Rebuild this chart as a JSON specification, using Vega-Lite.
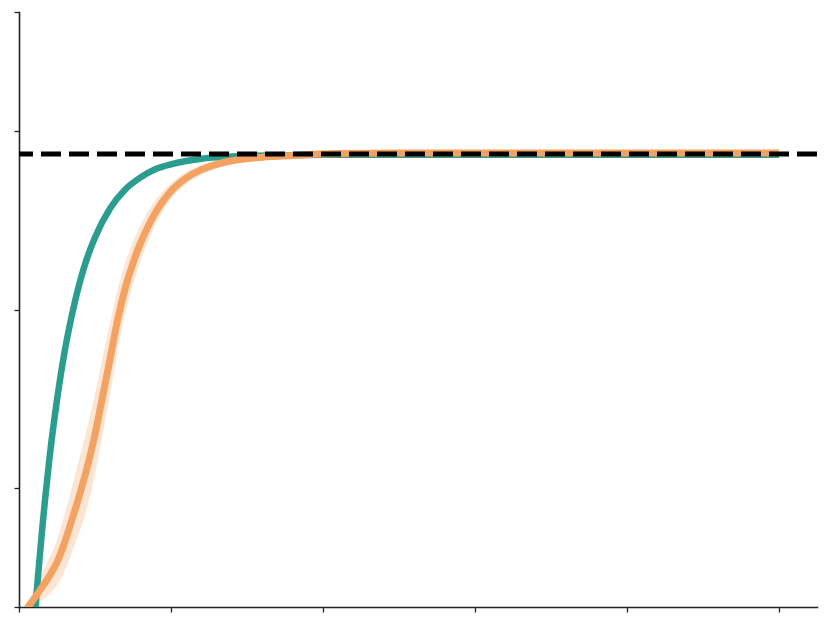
{
  "$schema": "https://vega.github.io/schema/vega-lite/v6.json",
  "width": 798,
  "height": 595,
  "autosize": {"type": "none"},
  "padding": {"left": 19, "top": 12, "right": 14, "bottom": 20},
  "background": "white",
  "config": {"view": {"stroke": null}},
  "datasets": {
    "teal": [
      {"x": 0.105, "y": -0.015},
      {"x": 0.109, "y": 0.0},
      {"x": 0.13, "y": 0.066},
      {"x": 0.15, "y": 0.124},
      {"x": 0.17, "y": 0.177},
      {"x": 0.2, "y": 0.249},
      {"x": 0.25, "y": 0.348},
      {"x": 0.3, "y": 0.429},
      {"x": 0.35, "y": 0.493},
      {"x": 0.4, "y": 0.546},
      {"x": 0.45, "y": 0.588},
      {"x": 0.5, "y": 0.621},
      {"x": 0.6, "y": 0.67},
      {"x": 0.7, "y": 0.702},
      {"x": 0.8, "y": 0.722},
      {"x": 0.9, "y": 0.736},
      {"x": 1.0, "y": 0.744},
      {"x": 1.2, "y": 0.7534},
      {"x": 1.4, "y": 0.757},
      {"x": 1.7, "y": 0.759},
      {"x": 2.0, "y": 0.76},
      {"x": 3.0, "y": 0.76},
      {"x": 4.0, "y": 0.76},
      {"x": 5.0, "y": 0.76}
    ],
    "orange": [
      {"x": 0.045, "y": -0.005, "lo": -0.015, "hi": 0.005},
      {"x": 0.059, "y": 0.0, "lo": -0.01, "hi": 0.01},
      {"x": 0.1, "y": 0.014, "lo": -0.001, "hi": 0.029},
      {"x": 0.15, "y": 0.033, "lo": 0.011, "hi": 0.055},
      {"x": 0.2, "y": 0.052, "lo": 0.022, "hi": 0.082},
      {"x": 0.25, "y": 0.075, "lo": 0.037, "hi": 0.113},
      {"x": 0.3, "y": 0.108, "lo": 0.061, "hi": 0.155},
      {"x": 0.35, "y": 0.148, "lo": 0.093, "hi": 0.203},
      {"x": 0.4, "y": 0.19, "lo": 0.128, "hi": 0.252},
      {"x": 0.45, "y": 0.236, "lo": 0.169, "hi": 0.303},
      {"x": 0.5, "y": 0.29, "lo": 0.222, "hi": 0.358},
      {"x": 0.55, "y": 0.354, "lo": 0.289, "hi": 0.419},
      {"x": 0.6, "y": 0.418, "lo": 0.358, "hi": 0.478},
      {"x": 0.65, "y": 0.484, "lo": 0.434, "hi": 0.534},
      {"x": 0.7, "y": 0.537, "lo": 0.495, "hi": 0.579},
      {"x": 0.75, "y": 0.578, "lo": 0.542, "hi": 0.614},
      {"x": 0.8, "y": 0.612, "lo": 0.582, "hi": 0.642},
      {"x": 0.85, "y": 0.64, "lo": 0.615, "hi": 0.665},
      {"x": 0.9, "y": 0.664, "lo": 0.644, "hi": 0.684},
      {"x": 0.95, "y": 0.683, "lo": 0.667, "hi": 0.699},
      {"x": 1.0, "y": 0.699, "lo": 0.686, "hi": 0.712},
      {"x": 1.1, "y": 0.721, "lo": 0.711, "hi": 0.731},
      {"x": 1.2, "y": 0.735, "lo": 0.727, "hi": 0.743},
      {"x": 1.3, "y": 0.744, "lo": 0.737, "hi": 0.751},
      {"x": 1.4, "y": 0.75, "lo": 0.744, "hi": 0.756},
      {"x": 1.6, "y": 0.756, "lo": 0.751, "hi": 0.761},
      {"x": 1.8, "y": 0.759, "lo": 0.755, "hi": 0.763},
      {"x": 2.1, "y": 0.762, "lo": 0.758, "hi": 0.766},
      {"x": 2.5, "y": 0.763, "lo": 0.759, "hi": 0.767},
      {"x": 3.5, "y": 0.763, "lo": 0.759, "hi": 0.767},
      {"x": 5.0, "y": 0.763, "lo": 0.759, "hi": 0.767}
    ],
    "ref": [{"level": 0.7613}]
  },
  "layer": [
    {
      "data": {"name": "orange"},
      "mark": {"type": "area", "color": "#f4a261", "opacity": 0.28, "clip": true, "interpolate": "monotone"},
      "encoding": {
        "x": {"field": "x", "type": "quantitative", "scale": {"domain": [0, 5.25], "nice": false, "zero": false},
          "axis": {"values": [0, 1, 2, 3, 4, 5], "labels": false, "grid": false, "title": null, "domainColor": "#222", "domainWidth": 1.6, "tickColor": "#222", "tickWidth": 1.3, "tickSize": 5, "domainCap": "square"}},
        "y": {"field": "lo", "type": "quantitative", "scale": {"domain": [0, 1], "nice": false, "zero": false},
          "axis": {"values": [0, 0.2, 0.5, 0.8, 1], "labels": false, "grid": false, "title": null, "domainColor": "#222", "domainWidth": 1.6, "tickColor": "#222", "tickWidth": 1.3, "tickSize": 5, "domainCap": "square"}},
        "y2": {"field": "hi"}
      }
    },
    {
      "data": {"name": "teal"},
      "mark": {"type": "line", "color": "#2a9d8f", "strokeWidth": 6.5, "clip": true, "interpolate": "monotone"},
      "encoding": {
        "x": {"field": "x", "type": "quantitative"},
        "y": {"field": "y", "type": "quantitative"}
      }
    },
    {
      "data": {"name": "orange"},
      "mark": {"type": "line", "color": "#f4a261", "strokeWidth": 7, "clip": true, "interpolate": "monotone"},
      "encoding": {
        "x": {"field": "x", "type": "quantitative"},
        "y": {"field": "y", "type": "quantitative"}
      }
    },
    {
      "data": {"name": "ref"},
      "mark": {"type": "rule", "color": "black", "strokeWidth": 5, "strokeDash": [20, 8]},
      "encoding": {
        "y": {"field": "level", "type": "quantitative"}
      }
    }
  ]
}
